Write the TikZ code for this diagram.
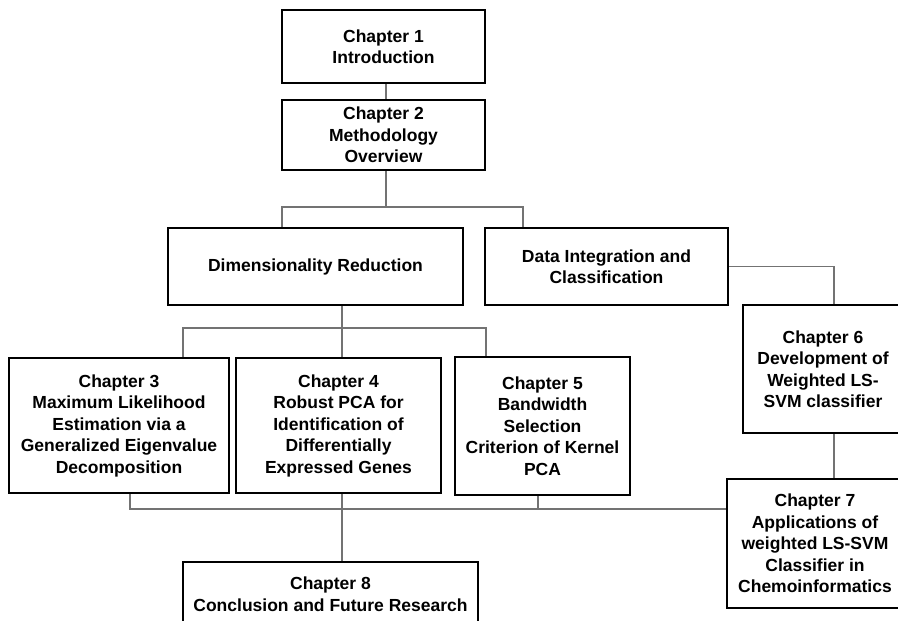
\documentclass[tikz,border=0pt]{standalone}
\usepackage{fontspec}
\setmainfont{Liberation Sans}
\begin{document}
\begin{tikzpicture}[x=1pt,y=-1pt,
  box/.style={draw=black, line width=2.6pt, fill=white, align=center, inner sep=0pt,
    font=\bfseries\fontsize{17.5}{21.5}\selectfont},
  conn/.style={draw=black!55, line width=1.3pt}]
\clip (0,0) rectangle (898,621);
\fill[white] (0,0) rectangle (898,621);

\node[box, minimum width=203pt, minimum height=73pt] (ch1) at (383.5,46.5) {Chapter 1\\Introduction};
\node[box, minimum width=203pt, minimum height=70pt] (ch2) at (383.5,135) {Chapter 2\\Methodology\\Overview};
\node[box, minimum width=295pt, minimum height=77pt] (dr) at (315.5,266.5) {Dimensionality Reduction};
\node[box, minimum width=243pt, minimum height=77pt] (di) at (606.5,266.5) {Data Integration and\\Classification};
\node[box, minimum width=160pt, minimum height=128pt] (ch6) at (823,369) {Chapter 6\\Development of\\Weighted LS-\\SVM classifier};
\node[box, minimum width=176pt, minimum height=129pt] (ch7) at (815,543.5) {Chapter 7\\Applications of\\weighted LS-SVM\\Classifier in\\Chemoinformatics};
\node[box, minimum width=220pt, minimum height=135pt] (ch3) at (119,425.5) {Chapter 3\\Maximum Likelihood\\Estimation via a\\Generalized Eigenvalue\\Decomposition};
\node[box, minimum width=205pt, minimum height=135pt] (ch4) at (338.5,425.5) {Chapter 4\\Robust PCA for\\Identification of\\Differentially\\Expressed Genes};
\node[box, minimum width=175pt, minimum height=138pt] (ch5) at (542.5,426) {Chapter 5\\Bandwidth\\Selection\\Criterion of Kernel\\PCA};
\node[box, minimum width=295pt, minimum height=64pt] (ch8) at (330.5,594) {Chapter 8\\Conclusion and Future Research};

\coordinate (busA) at (386,207);
\coordinate (busB) at (342,328);
\coordinate (busC) at (342,509);

% chapter 1 -> chapter 2
\draw[conn] ([xshift=2.5pt]ch1.south) -- ([xshift=2.5pt]ch2.north);
% chapter 2 -> two branches
\draw[conn] ([xshift=2.5pt]ch2.south) -- (busA);
\draw[conn] ([xshift=-33.5pt]dr.north) |- (busA) -| ([xshift=-83.5pt]di.north);
% data integration -> chapter 6 -> chapter 7
\draw[conn] (di.east) -| ([xshift=11pt]ch6.north);
\draw[conn] ([xshift=11pt]ch6.south) -- ([xshift=11pt]ch6.south |- ch7.north);
% dimensionality reduction -> chapters 3,4,5
\draw[conn] ([xshift=26.5pt]dr.south) -- (busB);
\draw[conn] ([xshift=64pt]ch3.north) |- (busB) -| ([xshift=-56.5pt]ch5.north);
\draw[conn] (busB) -- ([xshift=3.5pt]ch4.north);
% bottom bus to chapter 7 and chapter 8
\draw[conn] ([xshift=11pt]ch3.south) |- (busC) -- (busC -| ch7.west);
\draw[conn] ([xshift=-4.5pt]ch5.south) -- ([xshift=-4.5pt]ch5.south |- busC);
\draw[conn] ([xshift=3.5pt]ch4.south) -- ([xshift=11.5pt]ch8.north |- busC) -- ([xshift=11.5pt]ch8.north);
\end{tikzpicture}
\end{document}
